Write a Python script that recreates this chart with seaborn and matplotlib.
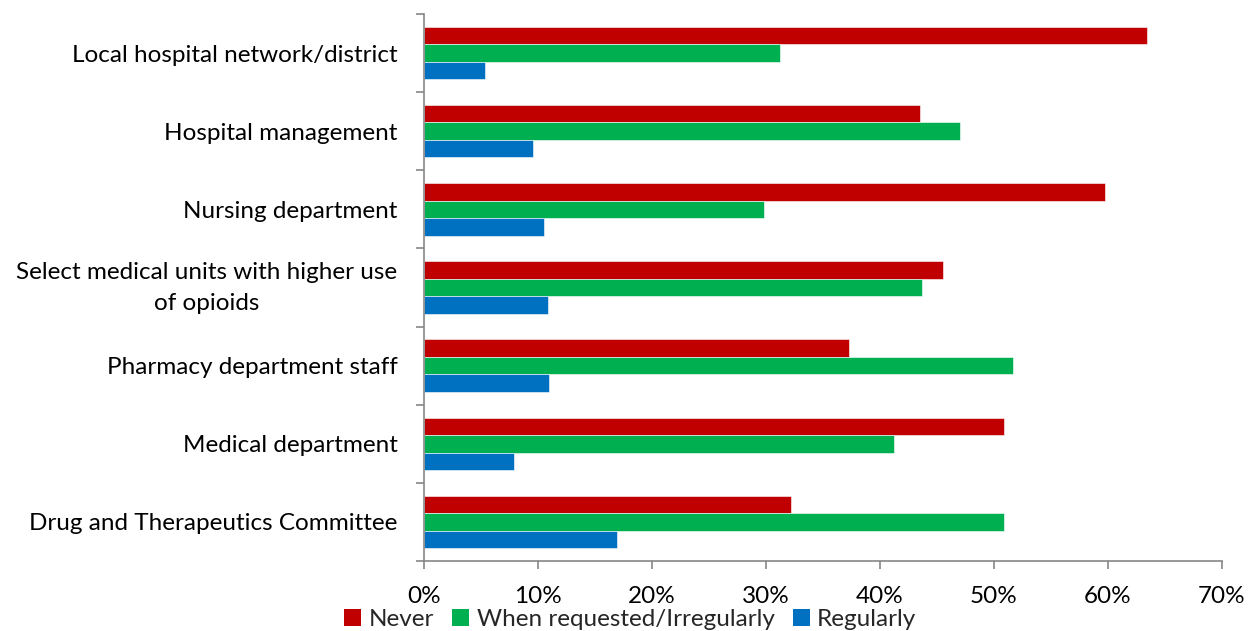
import matplotlib
matplotlib.use("Agg")
import matplotlib.pyplot as plt
import matplotlib.ticker as mticker
import matplotlib.transforms as mtransforms
from matplotlib.patches import Patch
import pandas as pd
import seaborn as sns

categories = [
    "Local hospital network/district",
    "Hospital management",
    "Nursing department",
    "Select medical units with higher use\nof opioids",
    "Pharmacy department staff",
    "Medical department",
    "Drug and Therapeutics Committee",
]
series = ["Never", "When requested/Irregularly", "Regularly"]
never = [63.4, 43.5, 59.7, 45.5, 37.3, 50.9, 32.2]
irregular = [31.2, 47.0, 29.8, 43.7, 51.7, 41.2, 50.9]
regularly = [5.35, 9.6, 10.5, 10.9, 11.0, 7.9, 16.95]
colors = ["#C00000", "#00B050", "#0070C0"]

rows = []
for s, vals in zip(series, [never, irregular, regularly]):
    for c, v in zip(categories, vals):
        rows.append({"category": c, "series": s, "value": v})
df = pd.DataFrame(rows)

sns.set_theme(style="white")
plt.rcParams["font.family"] = ["Lato", "DejaVu Sans"]

fig = plt.figure(figsize=(12.48, 6.31), dpi=100)
ax = fig.add_axes([424 / 1248, 1 - 561 / 631, (1222 - 424) / 1248, (561 - 14) / 631])

sns.barplot(
    data=df, y="category", x="value", hue="series",
    order=categories, hue_order=series, palette=colors,
    orient="h", width=0.67, ax=ax, legend=False,
    edgecolor="white", linewidth=0.4, saturation=1,
)

ax.set_xlim(0, 70)
ax.set_ylim(6.5, -0.5)
ax.xaxis.set_major_locator(mticker.MultipleLocator(10))
ax.xaxis.set_major_formatter(mticker.PercentFormatter(decimals=0))
ax.set_xlabel("")
ax.set_ylabel("")

axis_gray = "#868686"
for side in ["top", "right"]:
    ax.spines[side].set_visible(False)
for side in ["left", "bottom"]:
    ax.spines[side].set_color(axis_gray)
    ax.spines[side].set_linewidth(1.2)

fs = 17.5
# Category boundaries carry the tick marks; labels sit between them
ax.set_yticks([i - 0.5 for i in range(len(categories) + 1)], minor=True)
ax.tick_params(axis="y", which="major", length=0, pad=19, labelsize=fs, labelcolor="#000000")
ax.tick_params(axis="y", which="minor", length=6, width=1.2, color=axis_gray, left=True)
ax.tick_params(axis="x", which="major", length=6, width=1.2, color=axis_gray, bottom=True,
               pad=12, labelsize=fs, labelcolor="#000000")
for lbl in ax.get_yticklabels():
    lbl.set_horizontalalignment("right")
    lbl.set_multialignment("center")
    lbl.set_linespacing(1.6)
    if "\n" in lbl.get_text():
        # nudge the two-line label up so it sits centred on its group
        lbl.set_transform(lbl.get_transform() +
                          mtransforms.ScaledTranslation(0, 5 / 72, fig.dpi_scale_trans))

handles = [Patch(facecolor=c, edgecolor="none") for c in colors]
fig.legend(handles, series, loc="lower center", bbox_to_anchor=(0.505, -0.018), ncol=3,
           frameon=False, fontsize=fs, handlelength=0.7, handleheight=0.7,
           handletextpad=0.3, columnspacing=0.75, borderaxespad=0.1)

fig.savefig("out.png", dpi=100)
